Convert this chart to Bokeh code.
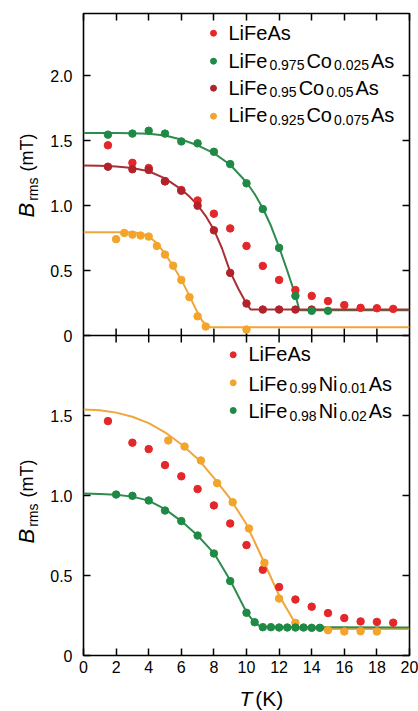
from bokeh.plotting import figure
from bokeh.layouts import column, row
from bokeh.models import (Label, LinearAxis, FixedTicker, Range1d, Span,
                          CustomJSTickFormatter)
from bokeh.embed import file_html
from bokeh.resources import INLINE
import math

# ---------------------------------------------------------------- data
# Temperature T (K) and field width B_rms (mT)
lifeas_T = [1.5, 3, 4, 5, 6, 7, 8, 9, 10, 11, 12, 13, 14, 15, 16, 17, 18, 19]
lifeas_B = [1.465, 1.33, 1.29, 1.19, 1.12, 1.04, 0.938, 0.825, 0.69, 0.536,
            0.428, 0.35, 0.305, 0.265, 0.234, 0.213, 0.21, 0.205]

co025_T = [1.5, 3, 4, 5, 6, 7, 8, 9, 10, 11, 12, 13, 14, 15]
co025_B = [1.547, 1.555, 1.577, 1.555, 1.495, 1.48, 1.415, 1.32, 1.172, 0.974,
           0.675, 0.305, 0.19, 0.19]
co025_fit_T = [0, 2, 3, 4, 5, 6, 7, 8, 9, 10, 10.5, 11, 11.5, 12, 12.5, 13, 13.25, 20]
co025_fit_B = [1.56, 1.56, 1.558, 1.553, 1.54, 1.51, 1.465, 1.405, 1.315, 1.18,
               1.09, 0.98, 0.845, 0.68, 0.5, 0.31, 0.195, 0.195]

co05_T = [1.5, 3, 4, 5, 6, 7, 8, 9, 10, 11, 12, 13, 14]
co05_B = [1.30, 1.28, 1.275, 1.187, 1.115, 1.0, 0.81, 0.482, 0.246, 0.2, 0.2, 0.2, 0.2]
co05_fit_T = [0, 1, 2, 3, 4, 5, 6, 6.5, 7, 7.5, 8, 8.5, 9, 9.5, 10, 10.25, 20]
co05_fit_B = [1.31, 1.308, 1.302, 1.29, 1.265, 1.21, 1.125, 1.07, 1.005, 0.92,
              0.815, 0.67, 0.49, 0.36, 0.245, 0.2, 0.2]

co075_T = [2, 2.5, 3, 3.5, 4, 4.5, 5, 5.5, 6, 6.5, 7, 7.5, 10]
co075_B = [0.742, 0.79, 0.777, 0.77, 0.762, 0.69, 0.623, 0.538, 0.428, 0.295,
           0.148, 0.069, 0.046]
co075_fit_T = [0, 3, 3.5, 4, 4.5, 5, 5.5, 6, 6.5, 7, 7.3, 7.6, 7.8, 20]
co075_fit_B = [0.795, 0.795, 0.788, 0.765, 0.71, 0.63, 0.535, 0.43, 0.305, 0.175,
               0.11, 0.07, 0.063, 0.063]

ni01_T = [5.2, 6.2, 7.2, 8.2, 9.15, 10.15, 11.1, 12, 13, 15, 16, 17, 18]
ni01_B = [1.344, 1.306, 1.219, 1.077, 0.958, 0.794, 0.579, 0.356, 0.204, 0.158,
          0.15, 0.152, 0.15]
ni01_fit_T = [0, 1, 2, 3, 4, 5, 6, 7, 8, 9, 10, 11, 12, 13, 13.15, 20]
ni01_fit_B = [1.537, 1.533, 1.518, 1.492, 1.452, 1.395, 1.32, 1.23, 1.11, 0.98,
              0.82, 0.60, 0.375, 0.2, 0.165, 0.165]

ni02_T = [2, 3, 4, 5, 6, 7, 8, 9, 10, 10.5, 11, 11.5, 12, 12.5, 13, 13.5, 14, 14.5]
ni02_B = [1.006, 0.998, 0.969, 0.906, 0.84, 0.75, 0.6375, 0.465, 0.267, 0.208,
          0.177, 0.177, 0.175, 0.175, 0.175, 0.175, 0.173, 0.173]
ni02_fit_T = [0, 1, 2, 3, 4, 5, 6, 7, 8, 9, 9.5, 10, 10.5, 10.9, 20]
ni02_fit_B = [1.012, 1.01, 1.005, 0.993, 0.968, 0.915, 0.84, 0.75, 0.64, 0.47,
              0.37, 0.27, 0.205, 0.178, 0.175]

x_ticks = [0, 2, 4, 6, 8, 10, 12, 14, 16, 18, 20]
top_y_ticks = [0, 0.5, 1.0, 1.5, 2.0]
bottom_y_ticks = [0, 0.5, 1.0, 1.5]

# ---------------------------------------------------------------- styling / geometry
RED = "#e3272a"
GREEN = "#1f8a45"
DARKRED = "#b1222b"
ORANGE = "#f3a42b"
GREEN_LINE = "#2f8c50"
DARKRED_LINE = "#a83035"
ORANGE_LINE = "#f1a63c"
FONT = "Liberation Sans"

W, H = 418, 711
STRIP_W = 44                 # column holding the rotated B_rms titles
XSTRIP_H = 28                # row holding the T (K) title
FRAME_L, FRAME_R = 83, 409   # frame edges in page pixels
FRAME_T, SPLIT, FRAME_B = 13, 335, 655
X_MAX = 20
TOP_MAX = 2.48               # Co panel spans 0 .. 2.48 mT
BOT_MAX = 2.0                # Ni panel spans 0 .. 2.0 mT
BASE_FIX = 7                 # lifts Label text onto the requested baseline

sx = (FRAME_R - FRAME_L) / X_MAX
s_bot = (FRAME_B - SPLIT) / BOT_MAX          # px per mT, Ni panel
s_top = (SPLIT - FRAME_T) / TOP_MAX          # px per mT, Co panel
K = s_top / s_bot                            # Co-panel mT -> main-range units

MAIN_W = W - STRIP_W
MAIN_H = H - XSTRIP_H

# Advance widths (1/1000 em) of the sans face, used to butt text pieces together
ADV = {'L': 556, 'i': 222, 'F': 611, 'e': 556, 'A': 667, 's': 500, 'C': 722,
       'o': 556, 'N': 722, '.': 278, ' ': 278, '(': 333, ')': 333, 'm': 833,
       'T': 611, 'K': 667, 'r': 333, 'B': 667}
for d in "0123456789":
    ADV[d] = 556


def text_width(txt, size):
    return sum(ADV[c] for c in txt) * size / 1000.0


def label(fig, conv, px, py, txt, size, style="normal", rotated=False):
    """Place a text piece with its baseline start at page pixel (px, py)."""
    if rotated:
        px -= BASE_FIX
    else:
        py -= BASE_FIX
    fx, fy = conv
    fig.add_layout(Label(x=fx(px), y=fy(py), text=txt, text_font=FONT,
                         text_font_size=f"{size}px", text_font_style=style,
                         text_color="black", angle=math.pi / 2 if rotated else 0.0,
                         text_align="left", text_baseline="alphabetic"))


# ---------------------------------------------------------------- main figure
# Default y range carries the Ni panel (0 at the bottom edge); the Co panel
# lives on its own range "co" whose zero sits on the dividing line.
p = figure(width=MAIN_W, height=MAIN_H, output_backend="svg", toolbar_location=None,
           x_range=Range1d(0, X_MAX),
           y_range=Range1d(0, (FRAME_B - FRAME_T) / s_bot),
           min_border_left=FRAME_L - STRIP_W, min_border_right=MAIN_W - (FRAME_R - STRIP_W),
           min_border_top=FRAME_T, min_border_bottom=MAIN_H - FRAME_B,
           x_axis_location=None, y_axis_location=None)
p.extra_y_ranges = {"co": Range1d(-(FRAME_B - SPLIT) / s_top, TOP_MAX)}
p.grid.visible = False
p.background_fill_color = "white"
p.border_fill_color = "white"
p.outline_line_color = "black"
p.outline_line_width = 1.6

y_tick_pos = list(bottom_y_ticks) + [BOT_MAX + v * K for v in top_y_ticks]
y_fmt = CustomJSTickFormatter(args=dict(split=BOT_MAX, k=K), code="""
    let v = tick < split - 1e-6 ? tick : (tick - split) / k;
    v = Math.round(v * 10) / 10;
    return v === 0 ? "0" : v.toFixed(1);
""")


def style_axis(ax, labels):
    ax.axis_line_color = None
    ax.major_tick_in = 7
    ax.major_tick_out = 0
    ax.major_tick_line_color = "black"
    ax.major_tick_line_width = 1.5
    ax.minor_tick_line_color = None
    if labels:
        ax.major_label_text_font = FONT
        ax.major_label_text_font_size = "16px"
        ax.major_label_text_color = "black"
    else:
        ax.major_label_text_color = None
        ax.major_label_text_font_size = "1px"
        ax.major_label_standoff = 0


xb = LinearAxis(ticker=FixedTicker(ticks=x_ticks))
style_axis(xb, True)
xb.major_label_standoff = 5
p.add_layout(xb, "below")
xa = LinearAxis(ticker=FixedTicker(ticks=x_ticks))
style_axis(xa, False)
p.add_layout(xa, "above")
yl = LinearAxis(ticker=FixedTicker(ticks=y_tick_pos), formatter=y_fmt)
style_axis(yl, True)
yl.major_label_standoff = 11
p.add_layout(yl, "left")
yr = LinearAxis(ticker=FixedTicker(ticks=y_tick_pos))
style_axis(yr, False)
p.add_layout(yr, "right")

# dividing line between the two panels, with ticks pointing into both
p.add_layout(Span(location=BOT_MAX, dimension="width", line_color="black", line_width=1.6))
inner = x_ticks[1:-1]
half = 7 / s_bot
p.segment(x0=inner, y0=[BOT_MAX - half] * len(inner), x1=inner,
          y1=[BOT_MAX + half] * len(inner), line_color="black", line_width=1.5)

# ---- Co-doped panel
p.line(co025_fit_T, co025_fit_B, line_color=GREEN_LINE, line_width=2, y_range_name="co")
p.line(co05_fit_T, co05_fit_B, line_color=DARKRED_LINE, line_width=2, y_range_name="co")
p.line(co075_fit_T, co075_fit_B, line_color=ORANGE_LINE, line_width=2, y_range_name="co")
p.scatter(lifeas_T, lifeas_B, size=7.5, color=RED, y_range_name="co")
p.scatter(co05_T, co05_B, size=7.5, color=DARKRED, y_range_name="co")
p.scatter(co025_T, co025_B, size=7.5, color=GREEN, y_range_name="co")
p.scatter(co075_T, co075_B, size=7.5, color=ORANGE, y_range_name="co")

# ---- Ni-doped panel
p.line(ni01_fit_T, ni01_fit_B, line_color=ORANGE_LINE, line_width=2)
p.line(ni02_fit_T, ni02_fit_B, line_color=GREEN_LINE, line_width=2)
p.scatter(lifeas_T, lifeas_B, size=7.5, color=RED)
p.scatter(ni01_T, ni01_B, size=7.5, color=ORANGE)
p.scatter(ni02_T, ni02_B, size=7.5, color=GREEN)

# ---- legends with subscripted compositions (page-pixel placement)
main_conv = (lambda px: (px - FRAME_L) / sx, lambda py: (FRAME_B - py) / s_bot)


def formula(px, base, parts, size=20, sub_size=14, drop=4.5, track=2.0):
    for txt, sub in parts:
        fs = sub_size if sub else size
        label(p, main_conv, px, base + (drop if sub else 0), txt, fs)
        px += text_width(txt, fs) + track


def legend(mx, tx, rows):
    fx, fy = main_conv
    for (color, parts), (my, base) in rows:
        p.scatter([fx(mx)], [fy(my)], size=6, color=color)
        formula(tx, base, parts)


legend(213, 228, [
    ((RED, [("LiFeAs", False)]), (32.7, 39.3)),
    ((GREEN, [("LiFe", False), ("0.975", True), ("Co", False), ("0.025", True), ("As", False)]), (60.7, 67.3)),
    ((DARKRED, [("LiFe", False), ("0.95", True), ("Co", False), ("0.05", True), ("As", False)]), (87.7, 94.0)),
    ((ORANGE, [("LiFe", False), ("0.925", True), ("Co", False), ("0.075", True), ("As", False)]), (115.7, 121.7)),
])
legend(232.7, 248, [
    ((RED, [("LiFeAs", False)]), (354.3, 360.7)),
    ((ORANGE, [("LiFe", False), ("0.99", True), ("Ni", False), ("0.01", True), ("As", False)]), (382.3, 390.0)),
    ((GREEN, [("LiFe", False), ("0.98", True), ("Ni", False), ("0.02", True), ("As", False)]), (410.0, 417.7)),
])


# ---------------------------------------------------------------- title strips
def strip(width, height, x0, x1, y0, y1):
    s = figure(width=width, height=height, output_backend="svg", toolbar_location=None,
               x_range=Range1d(x0, x1), y_range=Range1d(y1, y0),
               min_border=0, x_axis_location=None, y_axis_location=None)
    s.grid.visible = False
    s.outline_line_color = None
    s.background_fill_color = "white"
    s.border_fill_color = "white"
    return s


# rotated B_rms (mT) for each panel; strip coordinates are page pixels
left = strip(STRIP_W, H, 0, STRIP_W, 0, H)
left_conv = (lambda px: px, lambda py: py)


def y_title(base_x, start_y):
    y = start_y
    label(left, left_conv, base_x, y, "B", 22, "italic", rotated=True)
    y -= text_width("B", 22) + 2
    label(left, left_conv, base_x + 6, y, "rms", 14, rotated=True)
    y -= text_width("rms", 14) + 6
    label(left, left_conv, base_x, y, "(mT)", 18, rotated=True)


y_title(33, 217)
y_title(33, 543)

# T (K) under the x axis
bottom = strip(MAIN_W, XSTRIP_H, STRIP_W, W, MAIN_H, H)
fs_t = 21
gap = 5
t_w = text_width("T", fs_t) + gap + text_width("(K)", fs_t)
x0 = (FRAME_L + FRAME_R) / 2 - t_w / 2
label(bottom, left_conv, x0, 705, "T", fs_t, "italic")
label(bottom, left_conv, x0 + text_width("T", fs_t) + gap, 705, "(K)", fs_t)

layout = row(left, column(p, bottom))
open("out.html", "w").write(file_html(layout, INLINE))
